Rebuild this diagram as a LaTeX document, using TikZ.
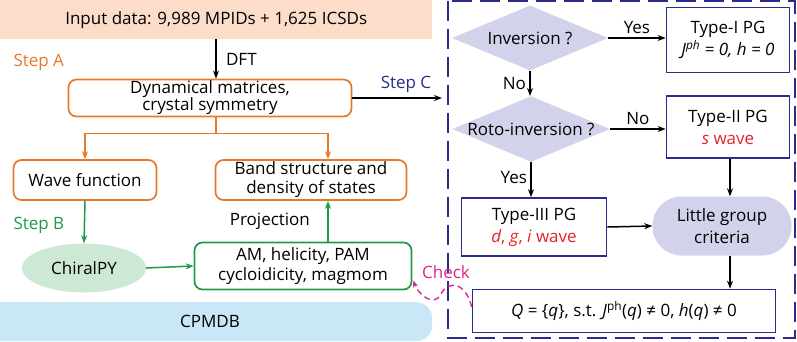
\documentclass[tikz,border=0pt]{standalone}
\usepackage{fontspec}
\setmainfont{Open Sans}
\usetikzlibrary{arrows.meta, positioning, calc, shapes.geometric}
\definecolor{peach}{HTML}{FBDDC9}
\definecolor{stepA}{HTML}{E8782A}
\definecolor{stepB}{HTML}{1F9A4B}
\definecolor{stepC}{HTML}{2A2C8C}
\definecolor{chiralfill}{HTML}{CDE8D5}
\definecolor{dbfill}{HTML}{C9E7F6}
\definecolor{lavender}{HTML}{D2D3EA}
\definecolor{wavered}{HTML}{E2242B}
\definecolor{checkpink}{HTML}{E0238C}
\begin{document}
\begin{tikzpicture}[x=1pt, y=-1pt, font=\fontsize{17}{20}\selectfont,
    tip/.style={-{Stealth[length=8pt, width=6pt]}, line width=1.5pt},
    abox/.style={draw=stepA, line width=1.7pt, rounded corners=8pt, align=center,
                 inner sep=0pt},
    bbox/.style={draw=stepB, line width=1.7pt, rounded corners=8pt, align=center,
                 inner sep=0pt},
    pgbox/.style={draw=stepC, line width=1.7pt, align=center, inner sep=0pt},
    query/.style={diamond, fill=lavender, aspect=2.4, inner sep=0pt, align=center}]
  \useasboundingbox (0,0) rectangle (797,341);

  % input and database bands
  \node[fill=peach, minimum width=432pt, minimum height=39pt, anchor=north west]
    (input) at (0,0) {Input data: 9,989 MPIDs + 1,625 ICSDs};
  \node[fill=dbfill, rounded corners=16pt, minimum width=450pt, minimum height=39pt,
        anchor=north west] (db) at (-18,302) {};
  \node at (210,321) {CPMDB};

  % step A
  \node[abox, minimum width=283pt, minimum height=37pt] (dyn) at (210,98)
    {Dynamical matrices,\\[-3pt] crystal symmetry};
  \node[abox, minimum width=143pt, minimum height=40pt] (wave) at (85,180) {Wave function};
  \node[abox, minimum width=191pt, minimum height=40pt] (band) at (311,180)
    {Band structure and\\[-1pt] density of states};
  \node[text=stepA, anchor=west] (stepa) at (10,62) {Step A};
  \draw[tip] (input.south -| dyn) ++(6,0) -- node[right=6pt] {DFT} ($(dyn.north)+(6,0)$);
  \coordinate (split) at ($(dyn.south)+(6,16)$);
  \draw[stepA, line width=1.5pt] ($(dyn.south)+(6,0)$) -- (split);
  \draw[tip, stepA] (split) -| (wave.north);
  \draw[tip, stepA] (split) -| ($(band.north)+(17,0)$);

  % step B
  \node[ellipse, fill=chiralfill, minimum width=124pt, minimum height=49pt] (chiral)
    at (84,268) {ChiralPY};
  \node[bbox, minimum width=217pt, minimum height=47pt] (prop) at (303,266)
    {AM, helicity, PAM\\[0pt] cycloidicity, magmom};
  \node[text=stepB, anchor=west] (stepb) at (10,225) {Step B};
  \draw[tip, stepB] (wave.south) -- (chiral.north);
  \draw[tip, stepB] (chiral.east) -- (prop.west);
  \draw[tip, stepB] ($(prop.north)+(25,0)$) --
    node[left=14pt, text=black] {Projection} ($(band.south)+(17,0)$);

  % step C
  \draw[stepC, line width=2pt, dash pattern=on 20pt off 8pt]
    (448,1) rectangle (795,338);
  \coordinate (cin) at (442,98);
  \draw[tip] (dyn.east) -- (cin);
  \node[text=stepC] (stepc) at (406,84) {Step C};

  \node[query, minimum width=156pt, minimum height=65pt] (inv) at (530,38) {Inversion ?};
  \node[query, minimum width=157pt, minimum height=63pt] (roto) at (531,129)
    {Roto-inversion ?};
  \node[pgbox, minimum width=123pt, minimum height=65pt] (pg1) at (728,40)
    {Type-I PG\\[2pt] \textit{J\textsuperscript{ph} = 0, h = 0}};
  \node[pgbox, minimum width=123pt, minimum height=62pt] (pg2) at (728,127)
    {Type-II PG\\[2pt] \textcolor{wavered}{\textit{s} wave}};
  \node[pgbox, minimum width=145pt, minimum height=58pt] (pg3) at (534,227)
    {Type-III PG\\[2pt] \textcolor{wavered}{\textit{d}, \textit{g}, \textit{i} wave}};
  \node[fill=lavender, rounded corners=29pt, minimum width=139pt, minimum height=59pt,
        align=center] (little) at (722,226) {Little group\\[2pt] criteria};
  \node[pgbox, minimum width=303pt, minimum height=43pt] (qset) at (624,311)
    {\textit{Q} = \{\textit{q}\}, s.t. \textit{J}\textsuperscript{ph}(\textit{q}) ≠ 0,
     \textit{h}(\textit{q}) ≠ 0};

  \draw[tip] (inv.east) -- node[above] {Yes} (pg1.west |- inv.east);
  \draw[tip] (inv.south) -- node[left] {No} (roto.north -| inv.south);
  \draw[tip] (roto.east) -- node[above] {No} (pg2.west |- roto.east);
  \draw[tip] (roto.south) -- node[left, pos=0.45] {Yes} (pg3.north -| roto.south);
  \draw[tip] (pg3.east) -- (little.west);
  \draw[tip] (pg2.south -| little.north) ++(8,0) -- ($(little.north)+(8,0)$);
  \draw[tip] ($(little.south)+(8,0)$) -- ($(qset.north)+(106,0)$);

  % check loop
  \coordinate (chk) at ($(prop.south east)+(1,-10)$);
  \draw[checkpink, line width=1.4pt, dash pattern=on 6pt off 4pt,
        -{Stealth[length=7pt]}]
    ($(qset.west)+(0,-4)$) .. controls (466,282) and (448,280) .. (441,294)
    .. controls (434,308) and (418,294) .. (chk);
  \node[text=checkpink] (check) at (446,272) {Check};
\end{tikzpicture}
\end{document}
